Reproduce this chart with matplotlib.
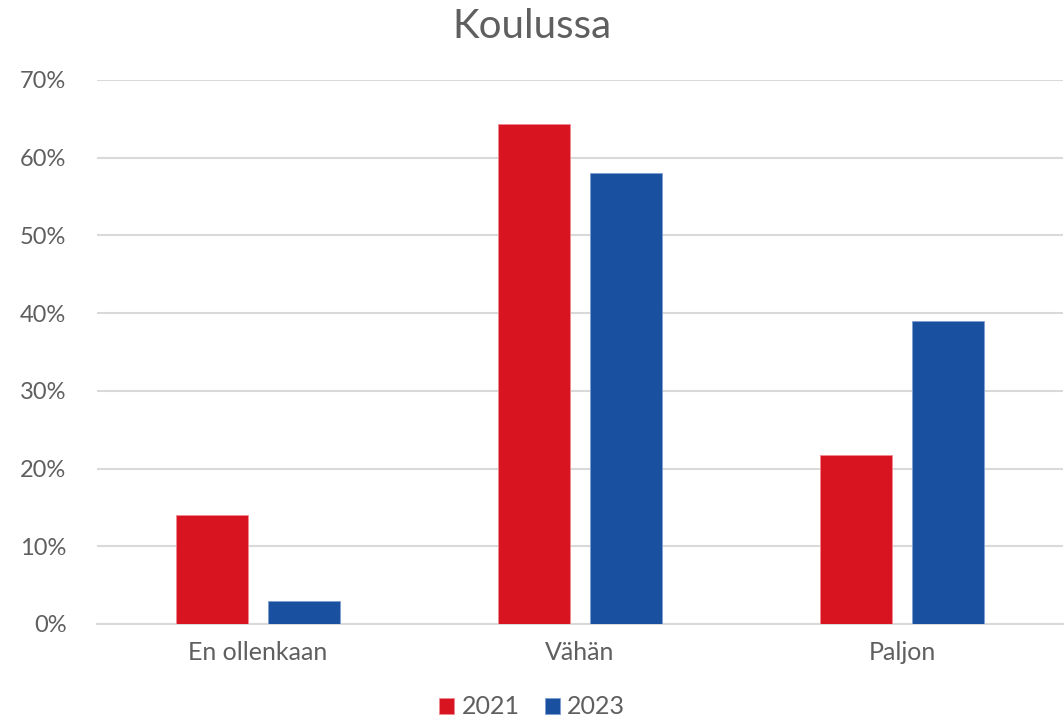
import numpy as np
import matplotlib.pyplot as plt

categories = ['En ollenkaan', 'Vähän', 'Paljon']
years = ['2021', '2023']
vals_2021 = [0.140, 0.643, 0.217]
vals_2023 = [0.030, 0.580, 0.390]

COLORS = {'2021': '#D7141F', '2023': '#1A50A0'}
EDGES = {'2021': '#EE8A90', '2023': '#7E9FD0'}
TXT = '#5F5F5F'

plt.rcParams['font.family'] = ['Lato', 'DejaVu Sans']

fig = plt.figure(figsize=(10.64, 7.21), dpi=100)
ax = fig.add_axes([97/1064, 1-624/721, 966/1064, (624-80)/721])

x = np.arange(len(categories))
w = 72/322
off = 46/322
for i, (yr, vals) in enumerate(zip(years, [vals_2021, vals_2023])):
    ax.bar(x + (off if i else -off), vals, width=w, color=COLORS[yr],
           edgecolor=EDGES[yr], linewidth=0.6, label=yr, zorder=3)

ax.set_xlim(-0.5, 2.5)
ax.set_ylim(0, 0.7)
ax.set_yticks(np.arange(0, 0.71, 0.1))
ax.set_yticklabels(['%d%%' % round(v*100) for v in np.arange(0, 0.71, 0.1)])
ax.set_xticks(x)
ax.set_xticklabels(categories)
ax.grid(axis='y', color='#D9D9D9', linewidth=1.5, zorder=0)
for s in ['top', 'right', 'left']:
    ax.spines[s].set_visible(False)
ax.spines['bottom'].set_color('#D9D9D9')
ax.spines['bottom'].set_linewidth(1.5)
ax.tick_params(axis='both', length=0, labelsize=17, colors=TXT)
ax.tick_params(axis='y', pad=22)
ax.tick_params(axis='x', pad=12)
for lbl in ax.get_xticklabels():
    lbl.set_fontsize(18)

fig.text(0.5, 1-27/721, 'Koulussa', ha='center', va='center', fontsize=29, color=TXT)
fig.legend(loc='center', bbox_to_anchor=(0.5, 1-707/721), ncol=2, frameon=False,
           fontsize=18, labelcolor=TXT, handlelength=0.6, handleheight=0.6,
           handletextpad=0.3, columnspacing=1.0)

fig.savefig('out.png', dpi=100)
